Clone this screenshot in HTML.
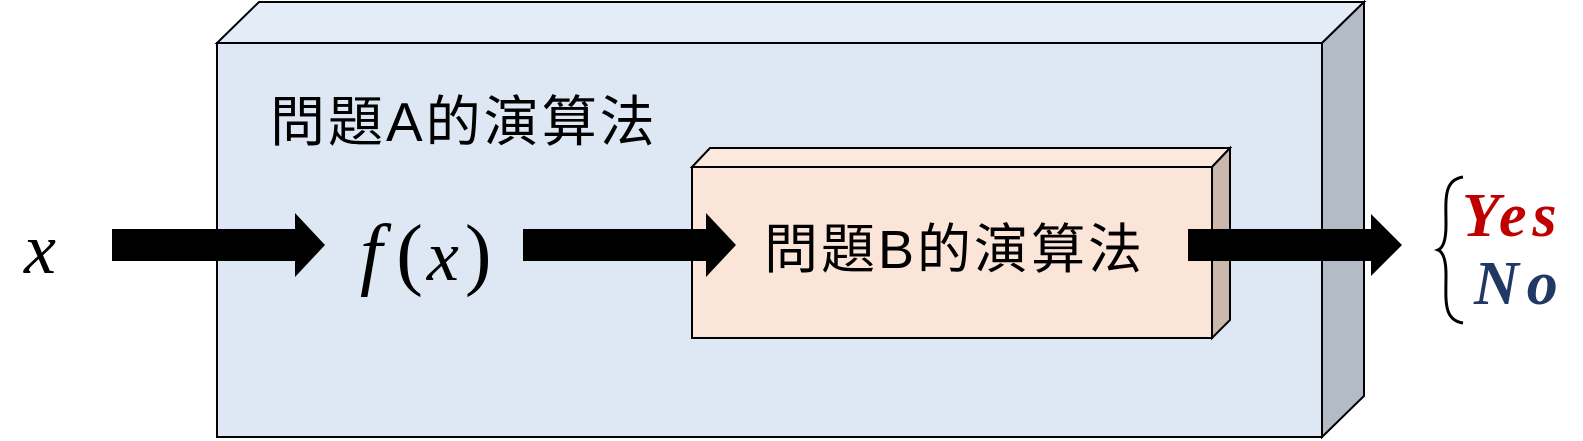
<!DOCTYPE html>
<html><head><meta charset="utf-8"><style>
html,body{margin:0;padding:0;background:#fff;}
svg{display:block}
</style></head><body>
<svg width="1583" height="441" viewBox="0 0 1583 441" xmlns="http://www.w3.org/2000/svg">
<g stroke="#000" stroke-width="2" stroke-linejoin="miter">
<polygon points="217,43 259,2 1364,2 1322,43" fill="#e4edf7"/>
<polygon points="1322,43 1364,2 1364,396 1322,437" fill="#b3bcc6"/>
<rect x="217" y="43" width="1105" height="394" fill="#dde8f4"/>
<polygon points="692,167 710,148 1230,148 1212,167" fill="#fce9de"/>
<polygon points="1212,167 1230,148 1230,320 1212,338" fill="#cab8ac"/>
<rect x="692" y="167" width="520" height="171" fill="#fbe5d8"/>
</g>
<g fill="#000">
<polygon points="112,229 295,229 295,213 325,245 295,277 295,261 112,261"/>
<polygon points="523,229 706,229 706,213 736,245 706,277 706,261 523,261"/>
<polygon points="1188,229 1371,229 1371,214 1402,245 1371,276 1371,261 1188,261"/>
</g>
<text x="270" y="141" font-family="'Liberation Sans','Noto Sans CJK TC',sans-serif" font-size="55" letter-spacing="3" fill="#000">問題A的演算法</text>
<text x="764" y="268" font-family="'Liberation Sans','Noto Sans CJK TC',sans-serif" font-size="54" letter-spacing="3" fill="#000">問題B的演算法</text>
<text x="24" y="273" font-family="'Liberation Serif',serif" font-style="italic" font-size="72" fill="#000">x</text>
<text x="360" y="280" font-family="'Liberation Serif',serif" font-size="80" fill="#000"><tspan font-style="italic">f</tspan><tspan dx="14">(</tspan><tspan dx="4" font-style="italic" font-size="72">x</tspan><tspan dx="6">)</tspan></text>
<path d="M1463,177 C1443,180 1446,200 1446,225 C1446,240 1443,248 1438,250 C1443,252 1446,260 1446,275 C1446,300 1443,320 1463,323" fill="none" stroke="#000" stroke-width="3"/>
<text x="1462" y="236" font-family="'Liberation Serif',serif" font-style="italic" font-weight="bold" font-size="62" fill="#c00000" letter-spacing="6">Yes</text>
<text x="1474" y="304" font-family="'Liberation Serif',serif" font-style="italic" font-weight="bold" font-size="62" fill="#1f3864" letter-spacing="8">No</text>
</svg>
</body></html>
